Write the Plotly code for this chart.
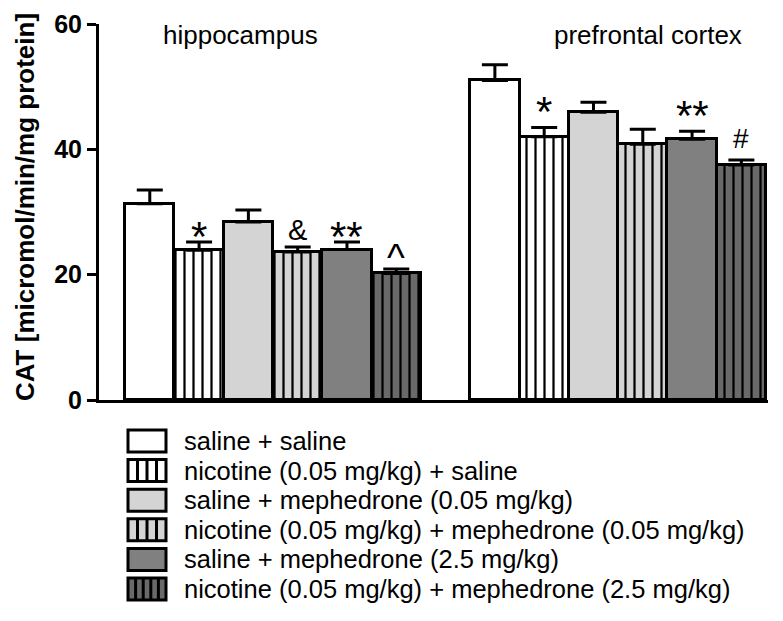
import plotly.graph_objects as go

# Données ----------------------------------------------------------------------
regions = ["hippocampus", "prefrontal cortex"]
treatments = [
    "saline + saline",
    "nicotine (0.05 mg/kg) + saline",
    "saline + mephedrone (0.05 mg/kg)",
    "nicotine (0.05 mg/kg) + mephedrone (0.05 mg/kg)",
    "saline + mephedrone (2.5 mg/kg)",
    "nicotine (0.05 mg/kg) + mephedrone (2.5 mg/kg)",
]
hippo_mean = [31.3, 23.9, 28.4, 23.6, 24.0, 20.2]
hippo_sem = [2.2, 1.3, 1.9, 0.8, 1.2, 0.7]
pfc_mean = [51.0, 42.0, 45.9, 40.8, 41.6, 37.5]
pfc_sem = [2.5, 1.5, 1.6, 2.4, 1.3, 0.8]
hippo_sig = ["", "*", "", "&", "**", "^"]
pfc_sig = ["", "*", "", "", "**", "#"]
y_ticks = [0, 20, 40, 60]

# Style ------------------------------------------------------------------------
colors = ["#ffffff", "#ffffff", "#d4d4d4", "#d4d4d4", "#808080", "#696969"]
striped = [False, True, False, True, False, True]
FONT = "Liberation Sans, Arial, sans-serif"
# symbole : (taille, décalage vertical)
sig_style = {"*": (42, -20), "**": (42, -20), "&": (29, -1), "^": (38, -12), "#": (28, -6)}
region_shift = [0, 10]

W, H = 783, 621
L, R, T, B = 91, 23, 16, 229


def px(x):
    # pixel -> paper (x)
    return (x - L) / (W - L - R)


def py(y):
    # pixel -> paper (y)
    return (H - B - y) / (H - T - B)


fig = go.Figure()

for i, name in enumerate(treatments):
    pattern = dict(shape="|", size=9, solidity=0.25, fgcolor="black",
                   bgcolor=colors[i], fillmode="replace") if striped[i] else dict(shape="")
    fig.add_trace(go.Bar(
        x=[i, 7 + i],
        y=[hippo_mean[i], pfc_mean[i]],
        width=1,
        name=name,
        marker=dict(color=colors[i], line=dict(color="black", width=3), pattern=pattern),
        error_y=dict(type="data", symmetric=False, array=[hippo_sem[i], pfc_sem[i]],
                     arrayminus=[0, 0], color="black", thickness=3, width=13),
        showlegend=False,
    ))

# significativité
annotations = []
for i in range(len(treatments)):
    for r, (x0, mean, sem, sig) in enumerate([(i, hippo_mean[i], hippo_sem[i], hippo_sig[i]),
                                              (7 + i, pfc_mean[i], pfc_sem[i], pfc_sig[i])]):
        if sig:
            size, shift = sig_style[sig]
            annotations.append(dict(x=x0, y=mean + sem, xref="x", yref="y", text=sig,
                                    showarrow=False, yanchor="bottom",
                                    yshift=shift + region_shift[r],
                                    font=dict(family=FONT, size=size, color="black")))

# noms des régions
for x0, lab in zip([1.85, 10.11], regions):
    annotations.append(dict(x=x0, y=py(27), xref="x", yref="paper", text=lab,
                            showarrow=False, xanchor="center", yanchor="middle",
                            font=dict(family=FONT, size=26, color="black")))

# titre de l'axe y
annotations.append(dict(x=px(17), y=py(199), xref="paper", yref="paper",
                        text="CAT [micromol/min/mg protein]", textangle=-90,
                        showarrow=False, xanchor="center", yanchor="middle",
                        font=dict(family=FONT, size=26, color="black", weight="bold")))

# légende manuelle
shapes = []
for i, name in enumerate(treatments):
    yc = 433 + 29.6 * i
    shapes.append(dict(type="rect", xref="paper", yref="paper",
                       x0=px(120), x1=px(158), y0=py(yc + 11), y1=py(yc - 11),
                       fillcolor=colors[i], line=dict(color="black", width=3)))
    if striped[i]:
        nb = 4 if i == 5 else 3
        for k in range(1, nb + 1):
            xs = 120 + k * 38 / (nb + 1)
            shapes.append(dict(type="line", xref="paper", yref="paper",
                               x0=px(xs), x1=px(xs), y0=py(yc + 11), y1=py(yc - 11),
                               line=dict(color="black", width=3)))
    annotations.append(dict(x=px(174), y=py(yc), xref="paper", yref="paper", text=name,
                            showarrow=False, xanchor="left", yanchor="middle",
                            font=dict(family=FONT, size=25.5, color="black")))

fig.update_layout(
    width=W, height=H,
    margin=dict(l=L, r=R, t=T, b=B),
    paper_bgcolor="white", plot_bgcolor="white",
    barmode="overlay",
    bargap=0,
    xaxis=dict(range=[-1.03, 12.54], showgrid=False, zeroline=False, showticklabels=False,
               ticks="", showline=True, linecolor="black", linewidth=3),
    yaxis=dict(range=[0, 60.0001], tickvals=y_ticks, showgrid=False, zeroline=False,
               ticks="outside", ticklen=9, tickwidth=3, tickcolor="black",
               showline=True, linecolor="black", linewidth=3,
               ticklabeloverflow="allow", automargin=False,
               tickfont=dict(family=FONT, size=25, color="black", weight="bold")),
    annotations=annotations,
    shapes=shapes,
)

fig.write_html("out.html")
